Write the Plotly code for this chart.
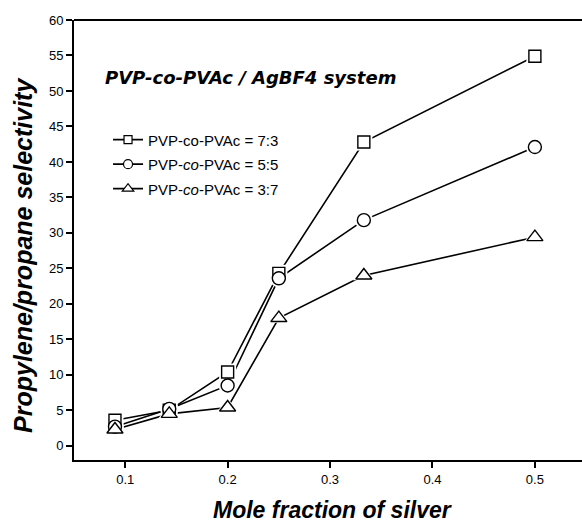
import plotly.graph_objects as go

x_frac = [0.09, 0.143, 0.2, 0.25, 0.333, 0.5]
sel_73 = [3.6, 5.0, 10.4, 24.3, 42.8, 54.9]
sel_55 = [2.7, 5.2, 8.5, 23.6, 31.8, 42.1]
sel_37 = [2.3, 4.5, 5.4, 18.0, 24.0, 29.4]

names = ["PVP-co-PVAc = 7:3", "PVP-<i>co</i>-PVAc = 5:5", "PVP-<i>co</i>-PVAc = 3:7"]
symbols = ["square", "circle", "triangle-up"]
sizes = [12, 13, 14]
series = [sel_73, sel_55, sel_37]

fig = go.Figure()
for ys in series:
    fig.add_trace(go.Scatter(x=x_frac, y=ys, mode="lines", line=dict(color="black", width=1.6),
                             showlegend=False, hoverinfo="skip"))
for ys, sym, sz in zip(series, symbols, sizes):
    fig.add_trace(go.Scatter(x=x_frac, y=ys, mode="markers",
                             marker=dict(symbol=sym, size=sz + 5, color="white", line=dict(width=0)),
                             showlegend=False, hoverinfo="skip"))
for ys, sym, sz in zip(series, symbols, sizes):
    fig.add_trace(go.Scatter(x=x_frac, y=ys, mode="markers",
                             marker=dict(symbol=sym, size=sz, color="white",
                                         line=dict(color="black", width=1.4)),
                             showlegend=False))
for i, (nm, sym, sz) in enumerate(zip(names, symbols, sizes)):
    fig.add_trace(go.Scatter(x=[None], y=[None], mode="lines+markers", name=nm, legendgroup=f"g{i}",
                             line=dict(color="black", width=1.6),
                             marker=dict(symbol=sym, size=sz - 4, color="white",
                                         line=dict(color="black", width=1.2))))

title_font = "DejaVu Sans, Liberation Sans, Arial"
fig.add_annotation(x=0.078, y=51.9, xref="x", yref="y", text="<b><i>PVP-co-PVAc / AgBF4 system</i></b>",
                   showarrow=False, xanchor="left", yanchor="middle",
                   font=dict(family=title_font, size=18, color="black"))
fig.add_annotation(x=-0.1004, y=0.466, xref="paper", yref="paper",
                   text="<b><i>Propylene/propane selectivity</i></b>", textangle=-90,
                   showarrow=False, xanchor="center", yanchor="middle",
                   font=dict(family="Liberation Sans, Arial", size=25, color="black"))
fig.add_annotation(x=0.508, y=-0.1136, xref="paper", yref="paper",
                   text="<b><i>Mole fraction of silver</i></b>",
                   showarrow=False, xanchor="center", yanchor="middle",
                   font=dict(family="Liberation Sans, Arial", size=23, color="black"))
# top frame line (no right frame in the reference)
fig.add_shape(type="line", xref="paper", yref="paper", x0=0, x1=1, y0=1, y1=1,
              line=dict(color="black", width=2))

fig.update_layout(
    width=582, height=527,
    margin=dict(l=74, r=0, t=20, b=67),
    plot_bgcolor="white", paper_bgcolor="white",
    font=dict(family="Liberation Sans, Arial", size=12, color="black"),
    legend=dict(x=0.067, y=0.765, xanchor="left", yanchor="top", bgcolor="rgba(0,0,0,0)",
                font=dict(size=15, color="black"), tracegroupgap=2, itemwidth=30),
    xaxis=dict(range=[0.05, 0.546], tickvals=[0.1, 0.2, 0.3, 0.4, 0.5],
               ticktext=["0.1", "0.2", "0.3", "0.4", "0.5"],
               showline=True, linecolor="black", linewidth=2, mirror=False,
               ticks="outside", ticklen=6, tickwidth=2, tickcolor="black",
               showgrid=False, zeroline=False,
               tickfont=dict(size=13)),
    yaxis=dict(range=[-2, 60], tickvals=list(range(0, 61, 5)),
               showline=True, linecolor="black", linewidth=2,
               ticks="outside", ticklen=6, tickwidth=2, tickcolor="black",
               showgrid=False, zeroline=False,
               tickfont=dict(size=13)),
)

fig.write_html("out.html", config={"displayModeBar": False},
               post_script="document.body.style.margin='0';document.body.style.overflow='hidden';")
